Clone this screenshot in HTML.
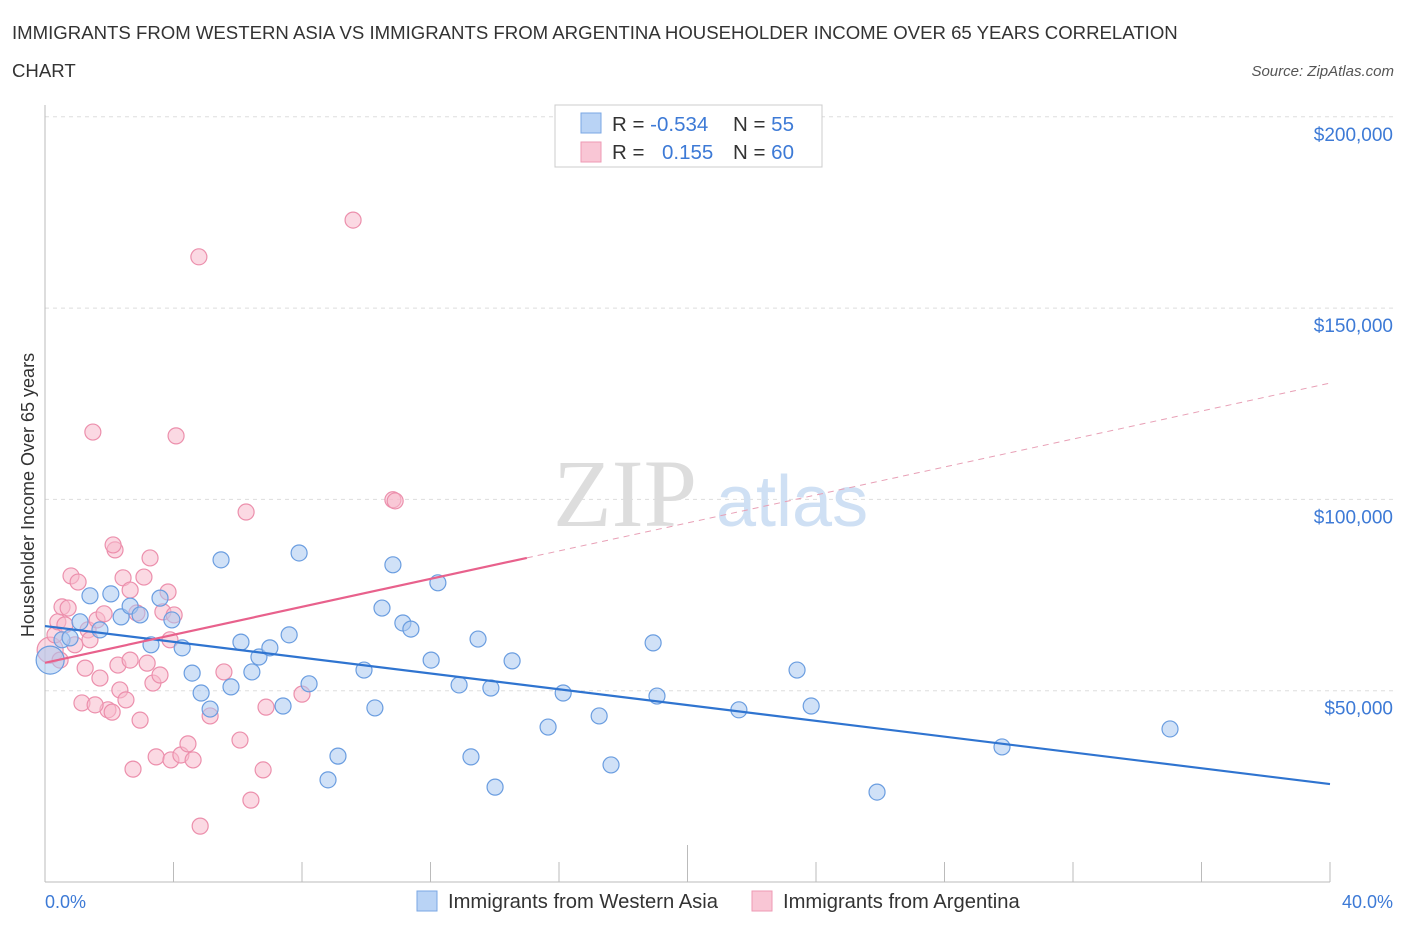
<!DOCTYPE html>
<html><head><meta charset="utf-8"><style>
body{margin:0;background:#fff;font-family:"Liberation Sans",sans-serif;}
</style></head><body>
<svg width="1406" height="930" xmlns="http://www.w3.org/2000/svg" font-family="Liberation Sans, sans-serif">
<text x="12" y="39" font-size="18.6" fill="#333">IMMIGRANTS FROM WESTERN ASIA VS IMMIGRANTS FROM ARGENTINA HOUSEHOLDER INCOME OVER 65 YEARS CORRELATION</text>
<text x="12" y="77" font-size="18.6" fill="#333">CHART</text>
<text x="1394" y="76" font-size="15" fill="#555" font-style="italic" text-anchor="end">Source: ZipAtlas.com</text>
<g id="grid"></g>
<g>
<text x="553" y="526" font-size="96" fill="#ddd" font-family="Liberation Serif, serif">ZIP</text>
<text x="716" y="526" font-size="72" fill="#cfe0f4">atlas</text>
</g>
<g id="marks"></g>
<text transform="translate(34,495) rotate(-90)" font-size="18" fill="#333" text-anchor="middle">Householder Income Over 65 years</text>
<text x="45" y="908" font-size="18" fill="#3d7ad6">0.0%</text>
<text x="1393" y="908" font-size="18" fill="#3d7ad6" text-anchor="end">40.0%</text>
<g>
<rect x="555" y="105" width="267" height="62" fill="#fff" stroke="#ccc"/>
<rect x="581" y="113" width="20" height="20" fill="#b9d3f5" stroke="#7aa7e4"/>
<rect x="581" y="142" width="20" height="20" fill="#f9c6d5" stroke="#ee9ab4"/>
<text x="612" y="131" font-size="20.5" fill="#333">R = <tspan fill="#3d7ad6">-0.534</tspan></text>
<text x="733" y="131" font-size="20.5" fill="#333">N = <tspan fill="#3d7ad6">55</tspan></text>
<text x="612" y="159" font-size="20.5" fill="#333">R = </text>
<text x="662" y="159" font-size="20.5" fill="#3d7ad6">0.155</text>
<text x="733" y="159" font-size="20.5" fill="#333">N = <tspan fill="#3d7ad6">60</tspan></text>
</g>
<g>
<rect x="417" y="891" width="20" height="20" fill="#b9d3f5" stroke="#7aa7e4"/>
<text x="448" y="908" font-size="20.2" fill="#333">Immigrants from Western Asia</text>
<rect x="752" y="891" width="20" height="20" fill="#f9c6d5" stroke="#ee9ab4"/>
<text x="783" y="908" font-size="20.2" fill="#333">Immigrants from Argentina</text>
</g>
</svg>
<script>
const yTicks=[50000,100000,150000,200000];
const yTickLabels=["$50,000","$100,000","$150,000","$200,000"];
const blueX=[0.16,0.53,0.78,1.09,1.40,1.71,2.05,2.37,2.65,2.96,3.30,3.58,3.95,4.27,4.58,4.86,5.14,5.48,5.79,6.10,6.44,6.66,7.00,7.41,7.60,7.91,8.22,8.81,9.12,9.93,10.27,10.49,10.83,11.14,11.39,12.02,12.23,12.89,13.26,13.48,13.88,14.01,14.54,15.66,16.13,17.25,17.62,18.93,19.05,21.60,23.41,23.85,25.90,29.79,35.02];
const blueY=[58.0,63.3,63.8,68.0,74.8,65.9,75.3,69.3,72.1,69.8,62.0,74.2,68.5,61.2,54.6,49.4,45.2,84.2,51.0,62.7,54.9,58.8,61.2,46.0,64.6,86.0,51.8,26.7,32.9,55.4,45.5,71.6,82.9,67.7,66.1,58.0,78.2,51.5,32.7,63.5,50.7,24.8,57.8,40.5,49.4,43.4,30.6,62.5,48.6,45.0,55.4,46.0,23.5,35.3,40.0];
const pinkX=[0.16,0.31,0.40,0.53,0.62,0.72,0.81,0.93,1.03,1.15,1.25,1.34,1.49,1.62,1.71,1.84,1.96,2.09,2.18,2.27,2.33,2.43,2.52,2.65,2.74,2.86,2.96,3.08,3.18,3.27,3.36,3.46,3.58,3.67,3.83,3.92,4.02,4.08,4.23,4.45,4.61,4.79,4.83,5.14,5.57,6.07,6.26,6.41,6.79,6.88,8.00,9.59,10.83,10.90,2.12,1.40,0.47,2.65,3.89,1.56];
const pinkY=[60.6,64.6,68.0,71.9,67.2,71.6,80.0,62.0,78.4,46.8,55.9,65.9,117.6,68.5,53.3,70.1,45.0,44.4,86.8,56.7,50.2,79.5,47.6,76.3,29.5,70.3,42.3,79.7,57.2,84.7,52.0,32.7,54.1,70.6,75.8,31.9,69.8,116.6,33.2,36.1,31.9,163.4,14.6,43.4,54.9,37.1,96.7,21.4,29.3,45.7,49.1,173.0,99.9,99.6,88.1,63.3,58.0,58.0,63.3,46.3];
const blueTrend=[66.9,25.6];
const pinkTrend=[57.3,130.4];
const pinkSolidEnd=15.0;
const NS="http://www.w3.org/2000/svg";
const X0=45,X1=1330,Y0=882,PX=191.3/50000;
const sx=p=>X0+(X1-X0)*p/40;
const sy=v=>Y0-v*PX;
const syk=k=>sy(k*1000);
function mk(tag,at,parent){const e=document.createElementNS(NS,tag);for(const k in at)e.setAttribute(k,at[k]);parent.appendChild(e);return e;}
const grid=document.getElementById('grid'),marks=document.getElementById('marks');
yTicks.forEach((t,i)=>{
 const l=mk('line',{x1:X0,x2:1395,y1:sy(t),y2:sy(t),stroke:'#ddd','stroke-dasharray':'4,4'},grid);
 
 
 const tx=mk('text',{x:1393,y:sy(t)+24,'font-size':19,fill:'#3d7ad6','text-anchor':'end'},grid);
 tx.textContent=yTickLabels[i];
 
 
});
const ya=mk('line',{x1:X0,x2:X0,y1:105,y2:Y0,stroke:'#bbb'},grid);


const xa=mk('line',{x1:X0,x2:X1,y1:Y0,y2:Y0,stroke:'#bbb'},grid);


for(let p=0;p<=40;p+=4){
 const t=mk('line',{x1:sx(p),x2:sx(p),y1:Y0,y2:862,stroke:'#bbb'},grid);
 if(p==20)t.setAttribute('y2',845);
 
 
}
function dot(x,y,r,fill,stroke,name){
 const c=mk('circle',{cx:sx(x),cy:syk(y),r:r,fill:fill,'fill-opacity':0.55,stroke:stroke,'stroke-width':1.2},marks);
 
 
}
pinkX.forEach((x,i)=>dot(x,pinkY[i],i==0?13:8,'#f7b9cc','#ec8fac','point-argentina'));
blueX.forEach((x,i)=>dot(x,blueY[i],i==0?14:8,'#a9c8f0','#6a9de0','point-western-asia'));
const bl=mk('line',{x1:sx(0),y1:syk(blueTrend[0]),x2:sx(40),y2:syk(blueTrend[1]),stroke:'#2f74d0','stroke-width':2.2},marks);


const pEnd=pinkTrend[0]+(pinkTrend[1]-pinkTrend[0])*pinkSolidEnd/40;
const pl=mk('line',{x1:sx(0),y1:syk(pinkTrend[0]),x2:sx(pinkSolidEnd),y2:syk(pEnd),stroke:'#e8618c','stroke-width':2.2},marks);


const pd=mk('line',{x1:sx(pinkSolidEnd),y1:syk(pEnd),x2:sx(40),y2:syk(pinkTrend[1]),stroke:'#e8a0b6','stroke-width':1,'stroke-dasharray':'6,5'},marks);


</script>
</body></html>
